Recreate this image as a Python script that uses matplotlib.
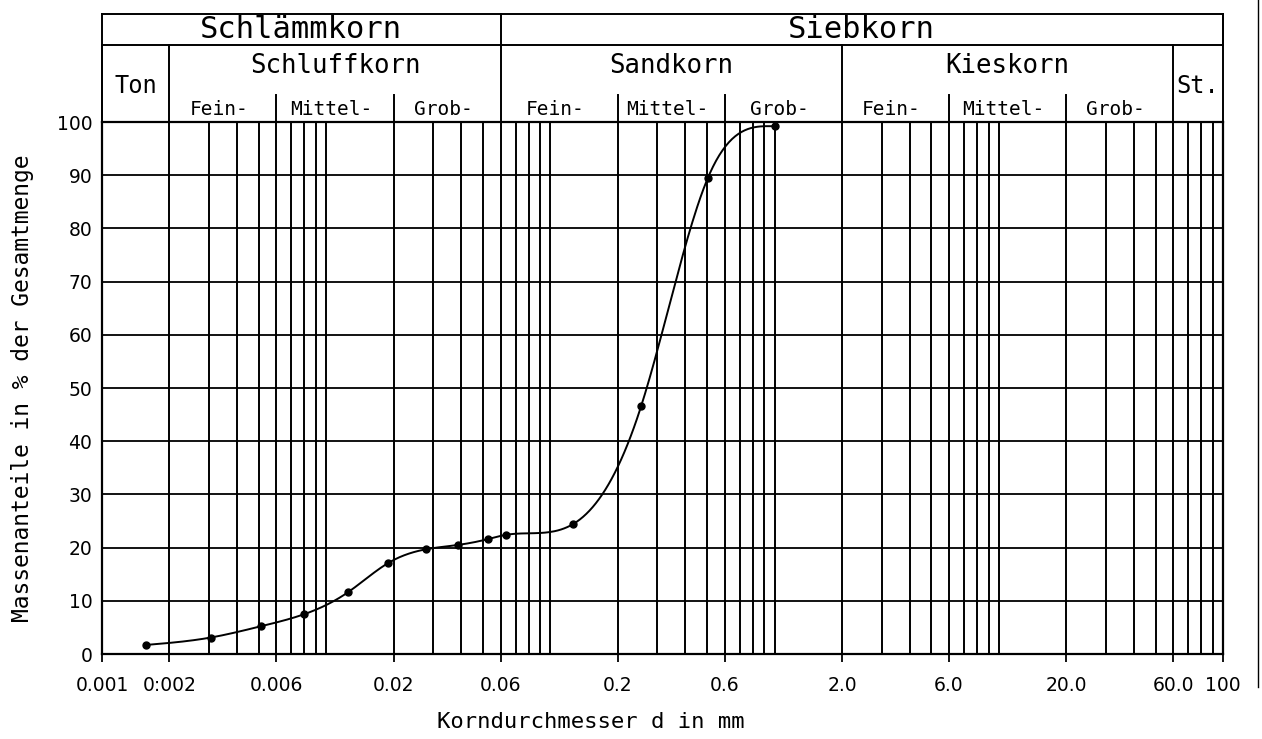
#!/usr/bin/env python
import numpy as np
import matplotlib
matplotlib.use("Agg")
import matplotlib.pyplot as plt
import matplotlib.transforms as mtransforms

# Sieve / sedimentation results (grain diameter in mm, passing in %)
diameter = [0.00157, 0.00306, 0.0051, 0.0080, 0.0125, 0.0189, 0.028,
            0.0387, 0.0527, 0.0634, 0.126, 0.254, 0.504, 1.0]
passing = [1.7, 3.1, 5.2, 7.5, 11.6, 17.1, 19.7,
           20.5, 21.6, 22.4, 24.4, 46.6, 89.5, 99.2]

# Axis ticks
x_ticks = [0.001, 0.002, 0.006, 0.02, 0.06, 0.2, 0.6, 2.0, 6.0, 20.0, 60.0, 100]
x_tick_labels = ["0.001", "0:002", "0.006", "0.02", "0.06", "0.2", "0.6",
                 "2.0", "6.0", "20.0", "60.0", "100"]
y_ticks = list(range(0, 101, 10))

# Grain class boundaries for the header table
main_groups = [("Schlämmkorn", 0.001, 0.06), ("Siebkorn", 0.06, 100)]
sub_groups = [("Ton", 0.001, 0.002), ("Schluffkorn", 0.002, 0.06),
              ("Sandkorn", 0.06, 2.0), ("Kieskorn", 2.0, 60.0), ("St.", 60.0, 100)]
fine_groups = [("Fein-", 0.002, 0.006), ("Mittel-", 0.006, 0.02), ("Grob-", 0.02, 0.06),
               ("Fein-", 0.06, 0.2), ("Mittel-", 0.2, 0.6), ("Grob-", 0.6, 2.0),
               ("Fein-", 2.0, 6.0), ("Mittel-", 6.0, 20.0), ("Grob-", 20.0, 60.0)]


def natural_spline(x, y, xs):
	# natural cubic spline, used only to draw the smooth curve through the points
	x = np.asarray(x, float); y = np.asarray(y, float)
	n = len(x)
	h = np.diff(x)
	A = np.zeros((n, n)); b = np.zeros(n)
	A[0, 0] = 1; A[-1, -1] = 1
	for i in range(1, n - 1):
		A[i, i - 1] = h[i - 1]
		A[i, i] = 2 * (h[i - 1] + h[i])
		A[i, i + 1] = h[i]
		b[i] = 3 * ((y[i + 1] - y[i]) / h[i] - (y[i] - y[i - 1]) / h[i - 1])
	c = np.linalg.solve(A, b)
	bc = (y[1:] - y[:-1]) / h - h * (2 * c[:-1] + c[1:]) / 3
	d = (c[1:] - c[:-1]) / (3 * h)
	idx = np.clip(np.searchsorted(x, xs) - 1, 0, n - 2)
	dx = xs - x[idx]
	return y[idx] + bc[idx] * dx + c[idx] * dx ** 2 + d[idx] * dx ** 3


if __name__ == "__main__":

	mono = "DejaVu Sans Mono"

	fig = plt.figure(figsize=(12.62, 7.39), dpi=100)
	ax = fig.add_axes([102 / 1262, 85 / 739, 1121 / 1262, 532 / 739])
	ax.set_xscale("log")
	ax.set_xlim(0.001, 100)
	ax.set_ylim(0, 100)

	# Log grid: one line for every 1..9 step of each decade
	for e in range(-3, 2):
		for k in range(1, 10):
			ax.axvline(k * 10.0 ** e, color="black", lw=1.4, zorder=1)
	for yv in y_ticks:
		ax.axhline(yv, color="black", lw=1.3, zorder=1)

	for sp in ax.spines.values():
		sp.set_linewidth(1.6)

	ax.set_xticks(x_ticks)
	ax.set_xticklabels(x_tick_labels)
	ax.xaxis.set_minor_locator(plt.NullLocator())
	ax.set_yticks(y_ticks)
	ax.tick_params(axis="x", length=6, width=1.3, pad=10, labelsize=13.5)
	ax.tick_params(axis="y", length=0, pad=7, labelsize=13.5)

	# Grading curve
	lx = np.log10(diameter)
	xs = np.linspace(lx[0], lx[-1] + 0.015, 400)
	ys = natural_spline(lx, passing, xs)
	ax.plot(10 ** xs, ys, color="black", lw=1.4, zorder=3, clip_on=False)
	ax.plot(diameter, passing, "o", color="black", ms=5, zorder=4)

	# Axis labels
	ax.text(0.436, -0.128, "Korndurchmesser d in mm", transform=ax.transAxes,
	        ha="center", va="center", fontsize=16, family=mono)
	ax.text(-0.071, 0.5, "Massenanteile in % der Gesamtmenge", transform=ax.transAxes,
	        ha="center", va="center", rotation=90, fontsize=16.5, family=mono)

	# Header table above the plot
	tr = mtransforms.blended_transform_factory(ax.transData, ax.transAxes)
	y_top, y_mid, y_sub = 1.2026, 1.1445, 1.0507
	kw = dict(color="black", lw=1.4, transform=tr, clip_on=False)
	ax.plot([0.001, 100], [y_top, y_top], **kw)
	ax.plot([0.001, 100], [y_mid, y_mid], **kw)
	ax.plot([0.001, 0.001], [1.0, y_top], **kw)
	ax.plot([100, 100], [1.0, y_top], **kw)

	for name, lo, hi in main_groups:
		ax.plot([hi, hi], [y_mid, y_top], **kw)
		ax.text(np.sqrt(lo * hi), 1.1745, name, transform=tr, ha="center",
		        va="center", fontsize=22, family=mono)

	for name, lo, hi in sub_groups:
		ax.plot([lo, lo], [1.0, y_mid], **kw)
		if name in ("Ton", "St."):
			ax.text(np.sqrt(lo * hi), 1.0675, name, transform=tr, ha="center",
			        va="center", fontsize=17, family=mono)
		else:
			ax.text(np.sqrt(lo * hi), 1.1051, name, transform=tr, ha="center",
			        va="center", fontsize=18.5, family=mono)

	for name, lo, hi in fine_groups:
		if name == "Mittel-":
			ax.plot([lo, lo], [1.0, y_sub], **kw)
			ax.plot([hi, hi], [1.0, y_sub], **kw)
		ax.text(np.sqrt(lo * hi) * 0.96, 1.0244, name, transform=tr, ha="center",
		        va="center", fontsize=14, family=mono)

	# scanned page edge on the right
	fig.add_artist(plt.Line2D([1258 / 1262, 1258 / 1262], [0.07, 1.0],
	                          color="black", lw=1.0, transform=fig.transFigure))

	fig.savefig("out.png", dpi=100)
